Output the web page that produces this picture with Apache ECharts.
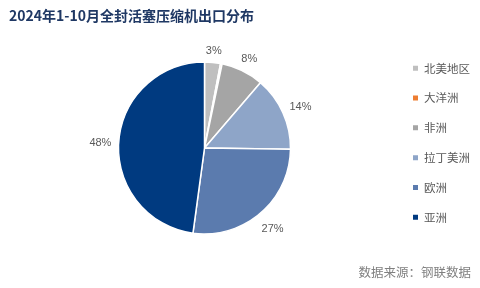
<!DOCTYPE html>
<html><head><meta charset="utf-8">
<script src="https://cdn.jsdelivr.net/npm/echarts@6/dist/echarts.min.js"></script>
<style>html,body{margin:0;padding:0;background:#fff}#c{width:480px;height:288px}</style>
</head><body><div id="c"></div>
<script>
const categories = ['北美地区','大洋洲','非洲','拉丁美洲','欧洲','亚洲'];
const values = [3, 0.3, 8, 14, 27, 48];
const colors = ['#BFBFBF','#ED7D31','#A5A5A5','#8EA5C8','#5B7BAE','#003A80'];
const titleText = '2024年1-10月全封活塞压缩机出口分布';
const sourceText = '数据来源：钢联数据';

const CX = 204.5, CY = 148, R = 86, GAP = 7;
const total = values.reduce((a, b) => a + b, 0);
const midAngles = [];
let acc = 0;
values.forEach(v => { midAngles.push((acc + v / 2) / total * Math.PI * 2); acc += v; });

const chart = echarts.init(document.getElementById('c'));
chart.setOption({
  animation: false,
  title: [{
    text: titleText, left: 4, top: 4,
    textStyle: {fontSize: 14, fontWeight: 'bold', color: '#1F3864', fontFamily: 'Noto Sans CJK SC'}
  },{
    text: sourceText, right: 4, top: 261,
    textStyle: {fontSize: 12.5, fontWeight: 'normal', color: '#808080', fontFamily: 'Noto Sans CJK SC'}
  }],
  legend: {
    orient: 'vertical', left: 411, top: 62.5, itemGap: 18.3, padding: 0,
    itemWidth: 7, itemHeight: 7, icon: 'rect',
    textStyle: {fontSize: 11.5, lineHeight: 11, color: '#595959', fontFamily: 'Noto Sans CJK SC'},
    data: categories
  },
  series: [{
    type: 'pie',
    center: [CX, CY], radius: R,
    startAngle: 90, clockwise: true,
    itemStyle: {borderColor: '#fff', borderWidth: 1.5},
    label: {
      show: true, position: 'outside', fontSize: 11, color: '#595959',
      fontFamily: 'Arial',
      formatter: p => p.value < 1 ? '' : Math.round(p.value) + '%'
    },
    labelLine: {show: false, length: 8, length2: 0},
    labelLayout: function (params) {
      const t = midAngles[params.dataIndex];
      const w = params.labelRect.width, h = params.labelRect.height;
      const s = Math.sin(t), c = Math.cos(t);
      const d = R + GAP + (w / 2) * Math.abs(s) + (h / 2) * Math.abs(c);
      return {x: CX + d * s, y: CY - d * c + 2, align: 'center', verticalAlign: 'middle'};
    },
    data: categories.map((n, i) => ({name: n, value: values[i], itemStyle: {color: colors[i]}}))
  }]
});
</script></body></html>
